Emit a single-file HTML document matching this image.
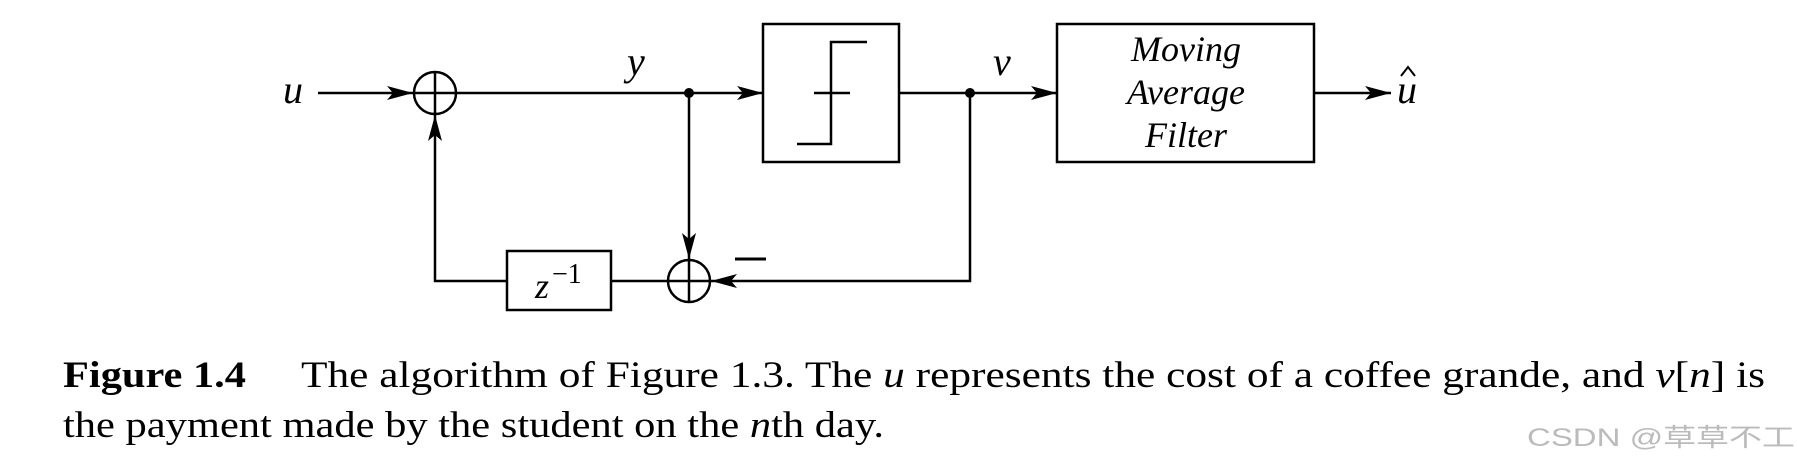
<!DOCTYPE html>
<html><head><meta charset="utf-8"><style>
html,body{margin:0;padding:0;background:#fff;width:1797px;height:464px;overflow:hidden}
svg{display:block}
text{font-family:"Liberation Serif",serif;fill:#000}
</style></head><body>
<svg width="1797" height="464" viewBox="0 0 1797 464" xmlns="http://www.w3.org/2000/svg">
<defs>
<marker id="ar" viewBox="0 0 26 14" refX="26" refY="7" markerWidth="26" markerHeight="14" markerUnits="userSpaceOnUse" orient="auto">
<path d="M0,0 L26,7 L0,14 L6,7 Z" fill="#000"/>
</marker>
</defs>
<g stroke="#000" stroke-width="2.5" fill="none">
<line x1="318" y1="93" x2="413" y2="93" marker-end="url(#ar)"/>
<circle cx="435" cy="93" r="21"/>
<line x1="414" y1="93" x2="456" y2="93"/>
<line x1="435" y1="72" x2="435" y2="114"/>
<line x1="456" y1="93" x2="763" y2="93" marker-end="url(#ar)"/>
<rect x="763" y="24" width="136" height="138"/>
<polyline points="797,144 831,144 831,42 867,42"/>
<line x1="814" y1="93" x2="850" y2="93"/>
<line x1="899" y1="93" x2="1057" y2="93" marker-end="url(#ar)"/>
<rect x="1057" y="24" width="257" height="138"/>
<line x1="1314" y1="93" x2="1391" y2="93" marker-end="url(#ar)"/>
<line x1="689" y1="93" x2="689" y2="259" marker-end="url(#ar)"/>
<circle cx="689" cy="281" r="21"/>
<line x1="668" y1="281" x2="710" y2="281"/>
<line x1="689" y1="260" x2="689" y2="302"/>
<polyline points="970,93 970,281 711,281" marker-end="url(#ar)"/>
<line x1="668" y1="281" x2="611" y2="281"/>
<rect x="507" y="251" width="104" height="59"/>
<polyline points="507,281 435,281 435,115" marker-end="url(#ar)"/>
<line x1="735" y1="259" x2="766" y2="259" stroke-width="3"/>
<polyline points="1401,76 1408,67 1415,76" stroke-width="2"/>
</g>
<circle cx="689" cy="93" r="5" fill="#000"/>
<circle cx="970" cy="93" r="5" fill="#000"/>
<g font-style="italic" font-size="40">
<text x="283" y="103">u</text>
<text x="627" y="75">y</text>
<text x="993" y="75">v</text>
<text x="1397" y="103">u</text>
</g>
<g font-style="italic" font-size="36" text-anchor="middle">
<text x="1186" y="61">Moving</text>
<text x="1186" y="104">Average</text>
<text x="1186" y="147">Filter</text>
</g>
<text x="535" y="298" font-style="italic" font-size="36">z</text>
<text x="552" y="283" font-size="28">−1</text>
<text x="63" y="387" font-size="37" font-weight="bold" textLength="183" lengthAdjust="spacingAndGlyphs">Figure 1.4</text>
<text x="301" y="387" font-size="37" textLength="1464" lengthAdjust="spacingAndGlyphs">The algorithm of Figure 1.3.  The <tspan font-style="italic">u</tspan> represents the cost of a coffee grande, and <tspan font-style="italic">v</tspan>[<tspan font-style="italic">n</tspan>] is</text>
<text x="63" y="437" font-size="37" textLength="821" lengthAdjust="spacingAndGlyphs">the payment made by the student on the <tspan font-style="italic">n</tspan>th day.</text>
<text x="1527" y="446" font-size="25" style="font-family:'Liberation Sans','Noto Sans CJK SC',sans-serif;fill:#bbb" textLength="268" lengthAdjust="spacingAndGlyphs">CSDN @草草不工</text>
</svg>
</body></html>
